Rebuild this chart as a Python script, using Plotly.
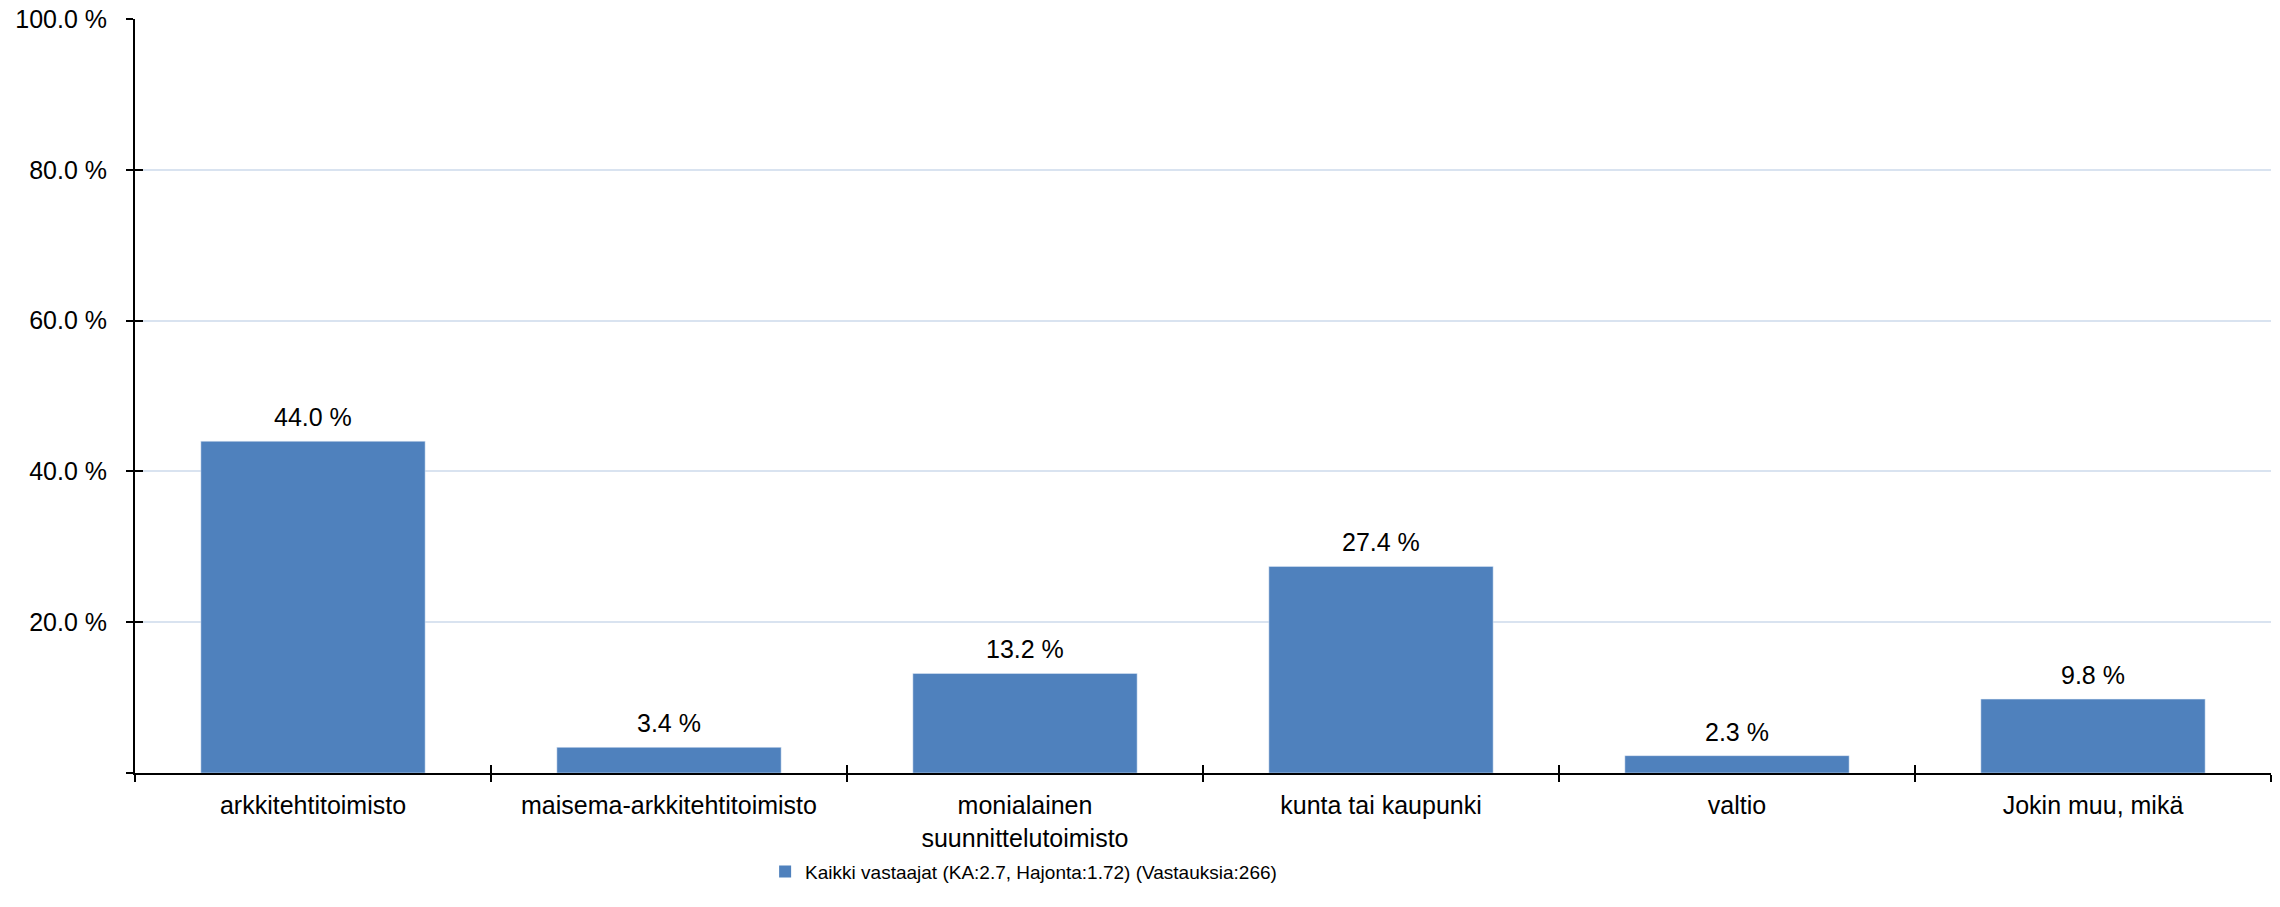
import plotly.graph_objects as go

categories = ["arkkitehtitoimisto", "maisema-arkkitehtitoimisto",
              "monialainen<br>suunnittelutoimisto", "kunta tai kaupunki",
              "valtio", "Jokin muu, mikä"]
values = [44.0, 3.4, 13.2, 27.4, 2.3, 9.8]
value_labels = ["44.0 %", "3.4 %", "13.2 %", "27.4 %", "2.3 %", "9.8 %"]
series_name = "Kaikki vastaajat (KA:2.7, Hajonta:1.72) (Vastauksia:266)"
y_tickvals = [0, 20, 40, 60, 80, 100]
y_ticktext = ["", "20.0 %", "40.0 %", "60.0 %", "80.0 %", "100.0 %"]

BAR = "#4F81BD"
GRID = "#D9E3F0"
FONT = "Liberation Sans, Arial, sans-serif"
FS = 25

fig = go.Figure()
fig.add_trace(go.Bar(
    x=categories, y=values, name=series_name,
    marker=dict(color=BAR, line=dict(width=0)),
    showlegend=True,
))
# invisible copy used only to draw the inward half of the crossing tick marks
fig.add_trace(go.Bar(
    x=categories, y=values, xaxis="x2", yaxis="y2",
    marker=dict(color="rgba(0,0,0,0)"), showlegend=False, hoverinfo="skip",
))

for c, v, t in zip(categories, values, value_labels):
    fig.add_annotation(x=c, y=v, xref="x", yref="y", text=t, showarrow=False,
                       yanchor="bottom", yshift=8,
                       font=dict(family=FONT, size=FS, color="#000000"))

fig.update_layout(
    width=2280, height=907,
    margin=dict(l=135, r=9, t=19, b=134, autoexpand=False),
    paper_bgcolor="white", plot_bgcolor="white",
    bargap=0.37,
    font=dict(family=FONT, size=FS, color="#000000"),
    xaxis=dict(
        type="category", categoryarray=categories, automargin=False,
        tickson="boundaries", ticks="outside", ticklen=7, tickwidth=2,
        tickcolor="black", showline=True, linecolor="black", linewidth=2,
        showgrid=False, tickfont=dict(family=FONT, size=FS, color="#000000"),
        ticklabelstandoff=9, ticklabeloverflow="allow",
    ),
    yaxis=dict(
        range=[0, 100], tickvals=y_tickvals, ticktext=y_ticktext, automargin=False,
        ticks="outside", ticklen=7, tickwidth=2, tickcolor="black",
        showline=True, linecolor="black", linewidth=2,
        showgrid=True, gridcolor=GRID, gridwidth=1.5, zeroline=False,
        tickfont=dict(family=FONT, size=FS, color="#000000"),
        ticklabelstandoff=14, ticklabeloverflow="allow",
    ),
    xaxis2=dict(
        type="category", categoryarray=categories, overlaying="x", side="bottom",
        tickson="boundaries", ticks="inside", ticklen=8, tickwidth=2, automargin=False,
        tickcolor="black", showline=False, showgrid=False, showticklabels=False,
    ),
    yaxis2=dict(
        range=[0, 100], tickvals=y_tickvals, overlaying="y", side="left", automargin=False,
        ticks="inside", ticklen=8, tickwidth=2, tickcolor="black",
        showline=False, showgrid=False, zeroline=False, showticklabels=False,
    ),
    legend=dict(
        orientation="h", x=0.295, xanchor="left", y=-0.131, yanchor="middle",
        font=dict(family=FONT, size=19, color="#000000"),
        itemwidth=30, bgcolor="rgba(0,0,0,0)",
    ),
)

fig.write_html("out.html", config={"displayModeBar": False},
               post_script="document.body.style.margin='0';document.body.style.overflow='hidden';")
